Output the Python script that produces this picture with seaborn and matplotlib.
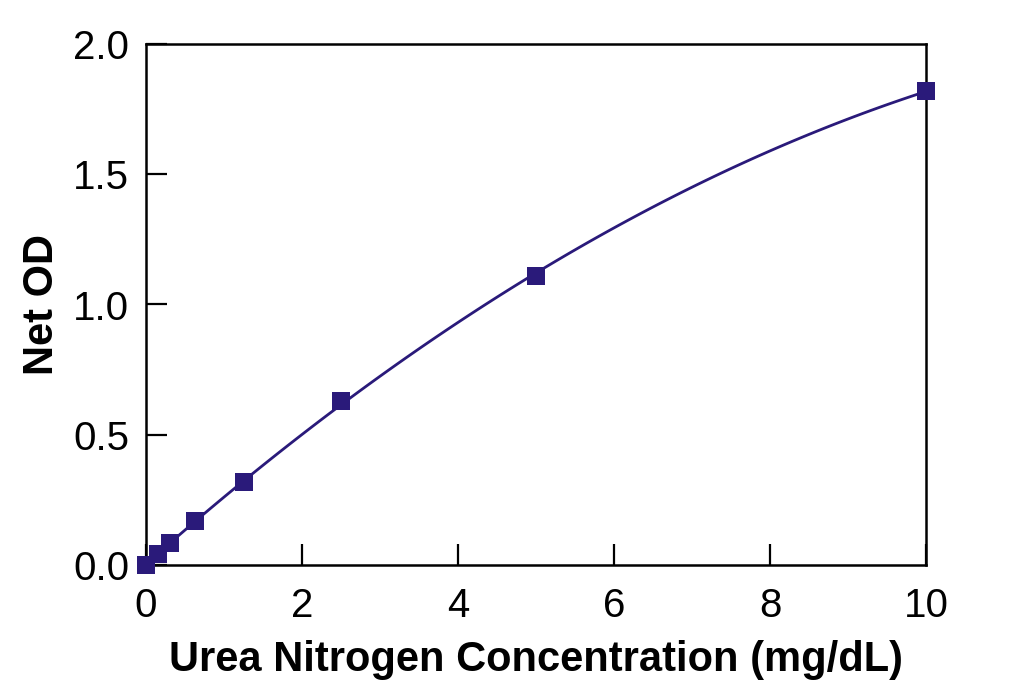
import numpy as np
import pandas as pd
import seaborn as sns
import matplotlib.pyplot as plt

# Standard curve readings
concentration = [0, 0.156, 0.3125, 0.625, 1.25, 2.5, 5, 10]
net_od = [0.0, 0.04, 0.085, 0.17, 0.32, 0.63, 1.11, 1.82]
x_ticks = [0, 2, 4, 6, 8, 10]
y_ticks = [0.0, 0.5, 1.0, 1.5, 2.0]

df = pd.DataFrame({"conc": concentration, "od": net_od})

sns.set_theme(style="ticks")
plt.rcParams["font.family"] = ["Liberation Sans", "DejaVu Sans"]

color = "#2a1a7a"
fig = plt.figure(figsize=(10.24, 7), dpi=100)
ax = fig.add_axes([0.1426, 0.193, 0.7617, 0.744])

# quadratic fit through the standards, then the squares on top
sns.regplot(data=df, x="conc", y="od", order=2, ci=None, scatter=False,
            line_kws={"color": color, "lw": 2}, ax=ax)
sns.scatterplot(data=df, x="conc", y="od", marker="s", s=160, color=color,
                edgecolor=color, linewidth=0, zorder=5, clip_on=False, ax=ax)

ax.set_xlim(0, 10)
ax.set_ylim(0, 2.0)
ax.set_xticks(x_ticks)
ax.set_xticklabels([str(t) for t in x_ticks])
ax.set_yticks(y_ticks)
ax.set_yticklabels([f"{t:.1f}" for t in y_ticks])
ax.tick_params(direction="in", length=15, width=1.6, labelsize=29,
               colors="black", labelcolor="black")
ax.tick_params(axis="x", pad=16)
ax.tick_params(axis="y", pad=12)
for s in ax.spines.values():
    s.set_linewidth(1.8)
    s.set_color("black")

ax.set_xlabel("Urea Nitrogen Concentration (mg/dL)", fontsize=30,
              fontweight="bold", color="black", labelpad=11)
ax.set_ylabel("Net OD", fontsize=30, fontweight="bold", color="black", labelpad=8)

plt.savefig("out.png", dpi=100)
